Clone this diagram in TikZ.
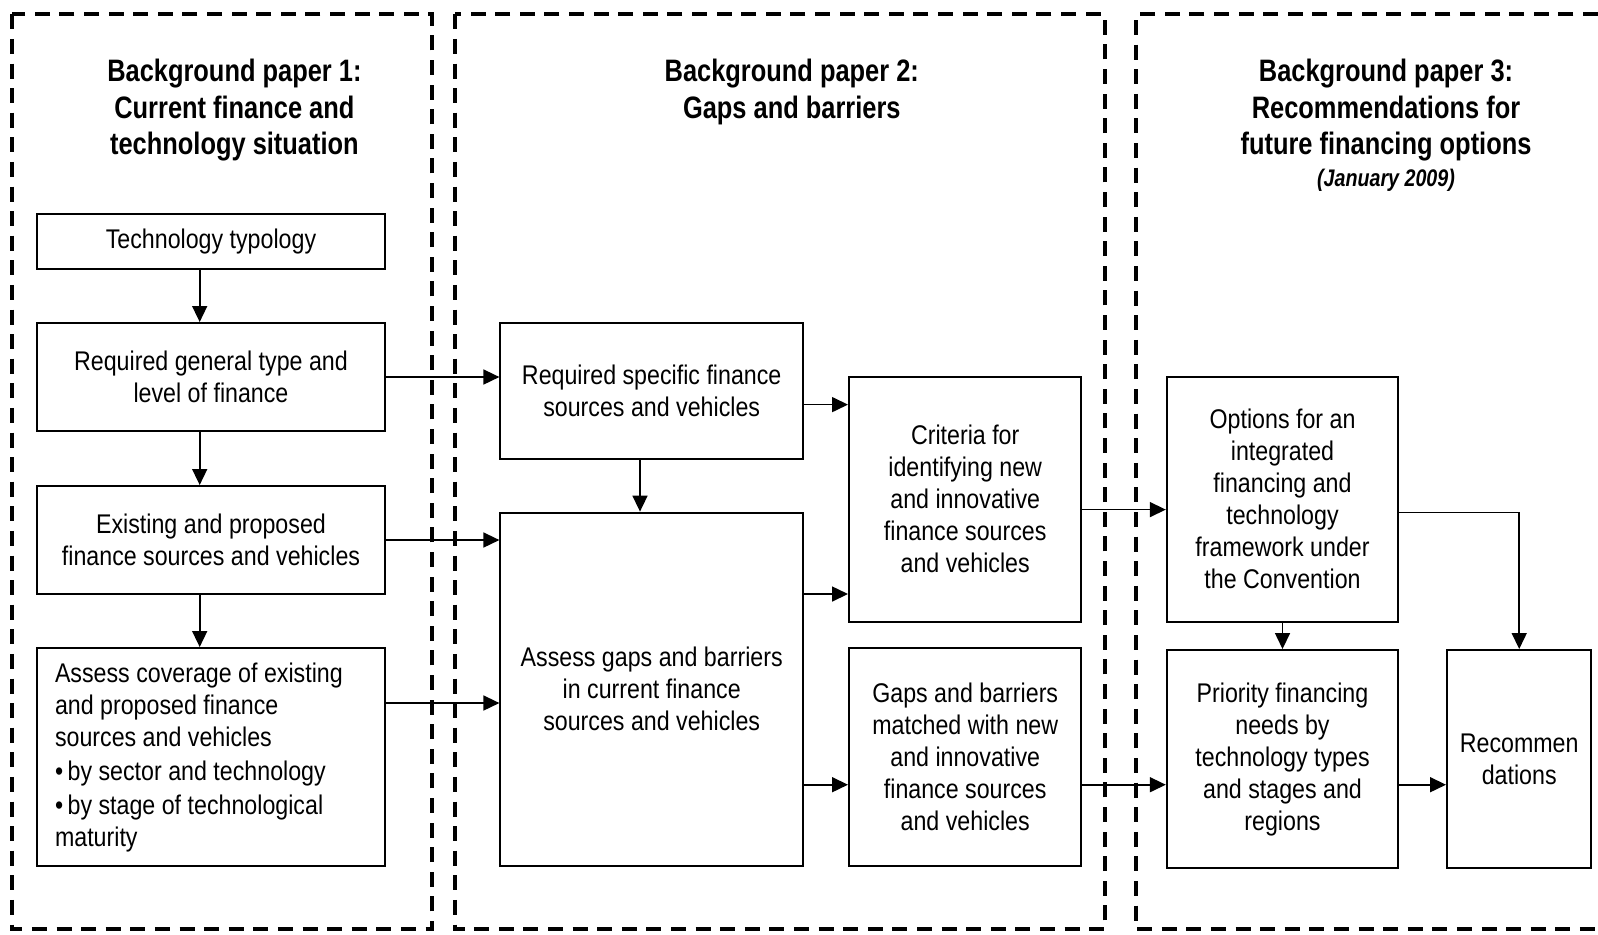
\documentclass[tikz,border=0pt]{standalone}
\usepackage{fontspec}
\setmainfont{Liberation Sans}[FakeStretch=0.86]
\newfontfamily\headfont{Liberation Sans}[FakeStretch=0.82]
\usetikzlibrary{arrows.meta}

\tikzset{
  stage/.style={draw, line width=1pt, align=center, inner sep=0pt, font=\fontsize{13.5}{16}\selectfont},
  flow/.style={-{Triangle[length=8pt,width=7.5pt]}, line width=0.8pt},
  paper/.style={line width=2pt, dash pattern=on 7.5pt off 4.8pt},
  heading/.style={align=center, inner sep=0pt, anchor=north, font=\headfont\bfseries\fontsize{15.5}{18.1}\selectfont}
}

\begin{document}
\begin{tikzpicture}[x=0.5pt, y=-0.5pt]
	\useasboundingbox (0,0) rectangle (1598,934);
	% the three background papers
	\draw[paper] (12.2,14.3) rectangle (432,929.4);
	\draw[paper] (454.5,14.3) rectangle (1104.7,929.4);
	\draw[paper] (1598,14.3) -- (1136.3,14.3) -- (1136.3,929.4) -- (1598,929.4);
	\node[heading] (head1) at (234.4,59) {Background paper 1:\\Current finance and\\technology situation};
	\node[heading] (head2) at (791.8,59) {Background paper 2:\\Gaps and barriers};
	\node[heading] (head3) at (1386,59) {Background paper 3:\\Recommendations for\\future financing options\\[-2pt]{\fontsize{12}{14}\selectfont\itshape (January 2009)}};

	% paper 1
	\node[stage, minimum width=174.25pt, minimum height=27.5pt] (typ) at (211,241.5) {Technology typology};
	\node[stage, minimum width=174.25pt, minimum height=54pt] (gen) at (211,377) {Required general type and\\level of finance};
	\node[stage, minimum width=174.25pt, minimum height=54pt] (exi) at (211,540) {Existing and proposed\\finance sources and vehicles};
	\node[stage, minimum width=174.25pt, minimum height=109pt, text width=156pt, inner xsep=9.1pt, align=flush left] (cov) at (211,757)
		{Assess coverage of existing\\and proposed finance\\sources and vehicles\\[1pt]\textbullet\,by sector and technology\\[1pt]\textbullet\,by stage of technological\\maturity};

	% paper 2
	\node[stage, minimum width=151.3pt, minimum height=67.8pt] (spec) at (651.7,391) {Required specific finance\\sources and vehicles};
	\node[stage, minimum width=151.3pt, minimum height=176.7pt] (gaps) at (651.7,689.3) {Assess gaps and barriers\\in current finance\\sources and vehicles};
	\node[stage, minimum width=116.2pt, minimum height=122.3pt] (crit) at (965.2,499.3) {Criteria for\\identifying new\\and innovative\\finance sources\\and vehicles};
	\node[stage, minimum width=116.2pt, minimum height=109pt] (match) at (965.2,757) {Gaps and barriers\\matched with new\\and innovative\\finance sources\\and vehicles};

	% paper 3
	\node[stage, minimum width=115.7pt, minimum height=122.3pt] (opt) at (1282.5,499.3) {Options for an\\integrated\\financing and\\technology\\framework under\\the Convention};
	\node[stage, minimum width=115.7pt, minimum height=109pt] (prio) at (1282.5,759) {Priority financing\\needs by\\technology types\\and stages and\\regions};
	\node[stage, minimum width=72.2pt, minimum height=109pt] (rec) at (1519.2,759) {Recommen\\dations};

	% connectors
	\draw[flow] (199.7,0 |- typ.south) -- (199.7,0 |- gen.north);
	\draw[flow] (199.7,0 |- gen.south) -- (199.7,0 |- exi.north);
	\draw[flow] (199.7,0 |- exi.south) -- (199.7,0 |- cov.north);
	\draw[flow] (gen.east) -- (gen.east -| spec.west);
	\draw[flow] (exi.east) -- (exi.east -| gaps.west);
	\draw[flow] (cov.east |- 0,703) -- (gaps.west |- 0,703);
	\draw[flow] (640,0 |- spec.south) -- (640,0 |- gaps.north);
	\draw[flow] (spec.east |- 0,404.6) -- (crit.west |- 0,404.6);
	\draw[flow] (gaps.east |- 0,594) -- (crit.west |- 0,594);
	\draw[flow] (gaps.east |- 0,784.7) -- (match.west |- 0,784.7);
	\draw[flow] (crit.east |- 0,509.6) -- (opt.west |- 0,509.6);
	\draw[flow] (match.east |- 0,784.7) -- (prio.west |- 0,784.7);
	\draw[flow] (opt.south) -- (prio.north);
	\draw[flow] (opt.east |- 0,512.6) -| (rec.north);
	\draw[flow] (prio.east |- 0,784.7) -- (rec.west |- 0,784.7);
\end{tikzpicture}
\end{document}
